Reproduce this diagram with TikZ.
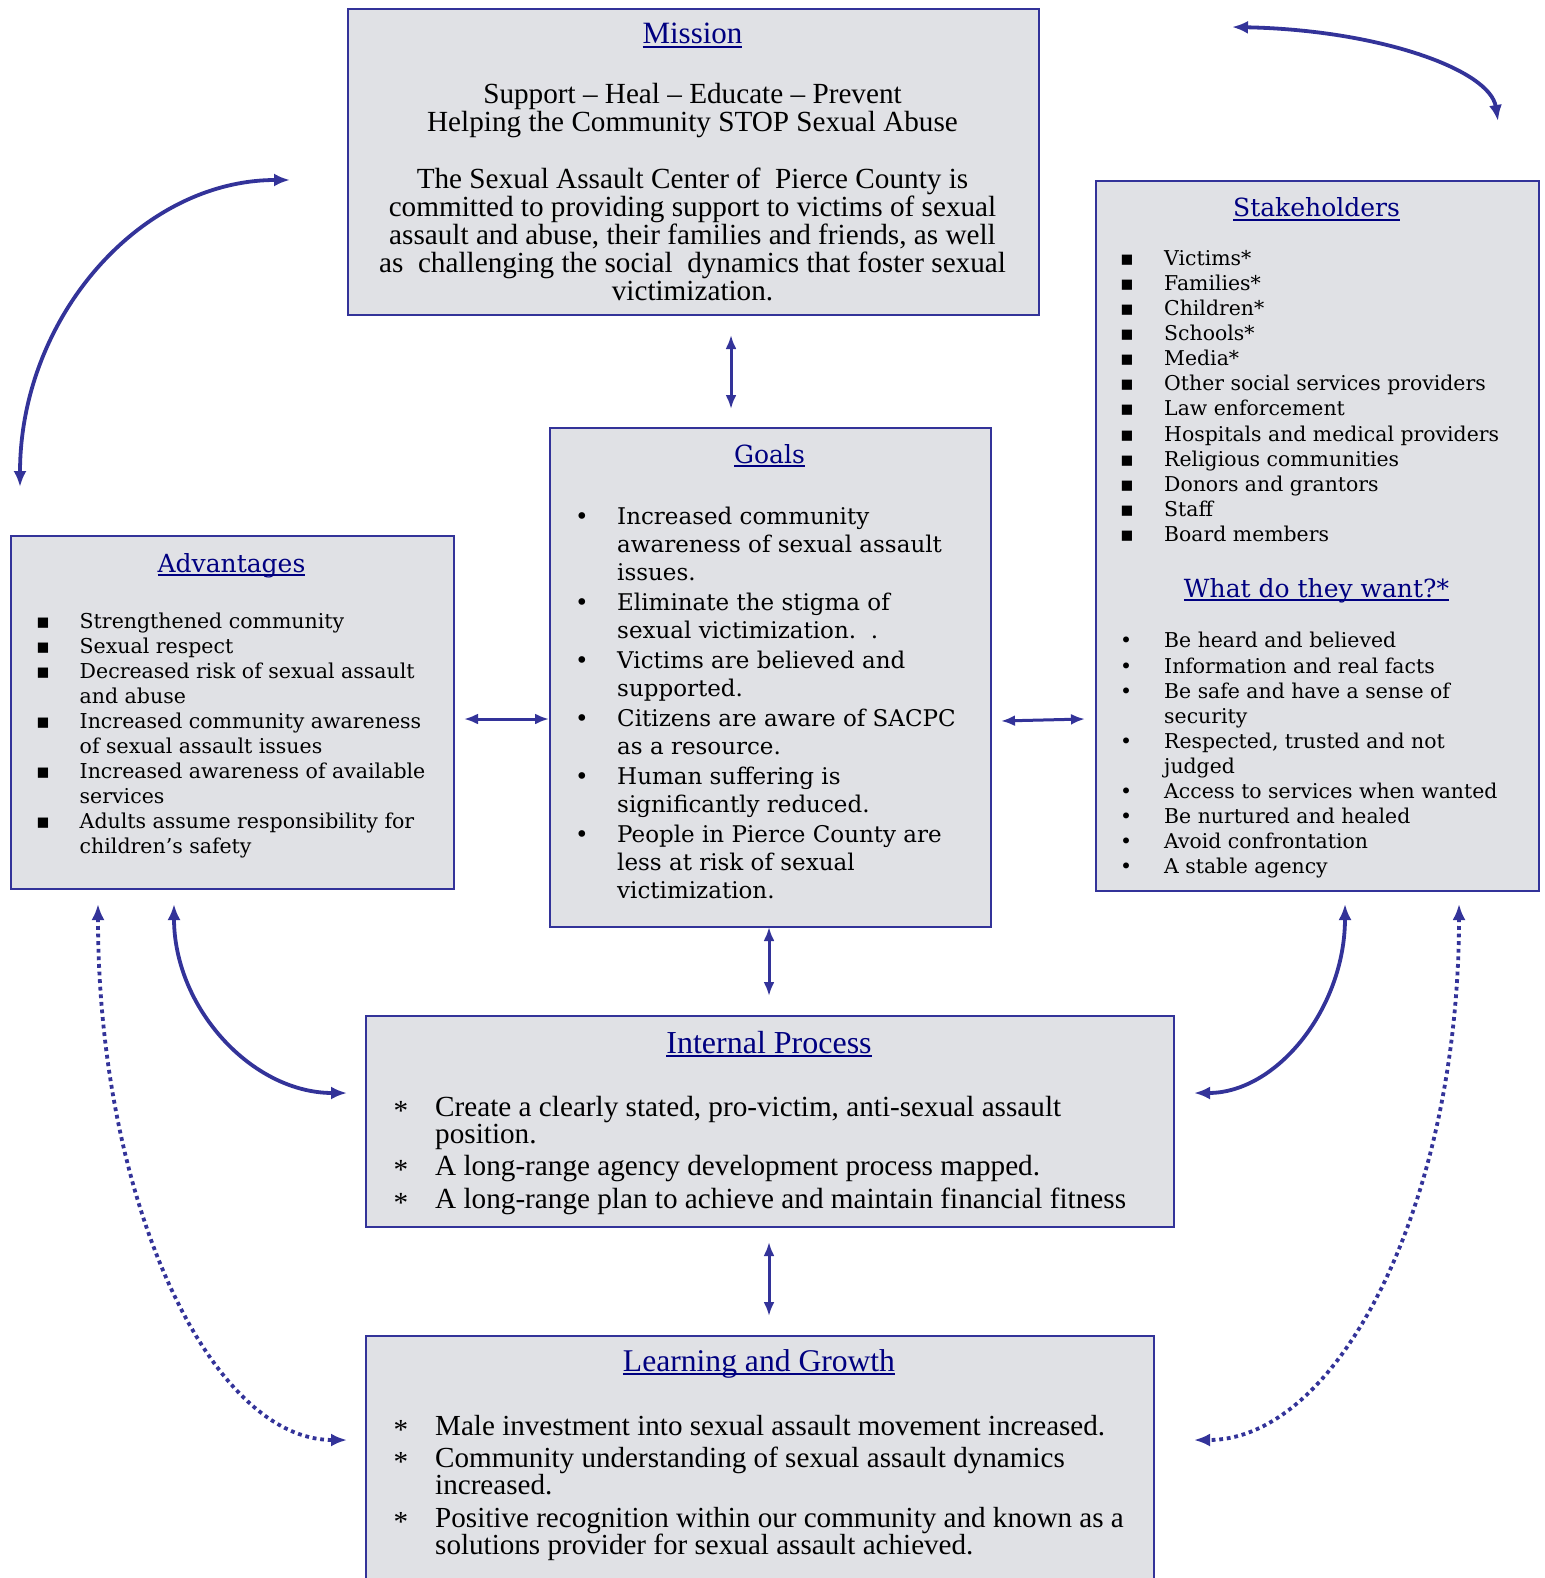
\documentclass[tikz,border=0pt]{standalone}
\usepackage{fontspec}
\setmainfont{Liberation Serif}
\newfontfamily\bk{DejaVu Serif}
\newfontfamily\tm{Liberation Serif}
\newfontfamily\dvs{DejaVu Sans}
\usetikzlibrary{arrows.meta}
\definecolor{lineblue}{RGB}{51,51,153}
\definecolor{titleblue}{RGB}{0,0,128}
\definecolor{marble}{RGB}{224,225,229}
\newcommand\myul[1]{\setbox0\hbox{#1}\rlap{\rule[-4pt]{\wd0}{1.6pt}}\box0}
\newcommand\bsq{\makebox[44pt][l]{\dvs ▪}}
\newcommand\bsqa{\makebox[43.5pt][l]{\dvs ▪}}
\newcommand\bdot{\makebox[44pt][l]{\dvs •}}
\newcommand\bgd{\makebox[42pt][l]{\dvs •}}
\newcommand\bst{\makebox[41.5pt][l]{\raisebox{-4pt}{*}}}
\begin{document}
\begin{tikzpicture}[x=1pt,y=-1pt,
  panel/.style={draw=lineblue, line width=2pt, fill=marble, anchor=north west, inner sep=0pt},
  conn/.style={draw=lineblue, line width=3.8pt, {Latex[length=16pt,width=13pt]}-{Latex[length=16pt,width=13pt]}},
  sconn/.style={draw=lineblue, line width=3pt, {Latex[length=14pt,width=11pt]}-{Latex[length=14pt,width=11pt]}},
  dotconn/.style={conn, dash pattern=on 3.8pt off 3.8pt},
  ttl/.style={anchor=base, text=titleblue, inner sep=0pt},
  txt/.style={anchor=base west, align=left, inner sep=0pt},
]
\useasboundingbox (0,0) rectangle (1544,1578);
\clip (0,0) rectangle (1544,1578);

% panels
\node[panel, minimum width=691pt, minimum height=306pt] (mission) at (347,8) {};
\node[panel, minimum width=441pt, minimum height=499pt] (goals) at (549,427) {};
\node[panel, minimum width=443pt, minimum height=353pt] (adv) at (10,535) {};
\node[panel, minimum width=443pt, minimum height=710pt] (stake) at (1095,180) {};
\node[panel, minimum width=808pt, minimum height=211pt] (internal) at (365,1015) {};
\node[panel, minimum width=788pt, minimum height=280pt] (learn) at (365,1335) {};

% Mission (multi-line nodes are placed by the baseline of their last line)
\node[ttl, font=\tm\fontsize{31}{31}\selectfont] (missiont) at (692.5,44) {\myul{Mission}};
\node[anchor=base, align=center, inner sep=0pt, font=\tm\fontsize{29.2}{28.2}\selectfont] (missionx) at (692.5,301)
 {Support – Heal – Educate – Prevent\\
  Helping the Community STOP Sexual Abuse\\[28.2pt]
  The Sexual Assault Center of\ \ Pierce County is\\
  committed to providing support to victims of sexual\\
  assault and abuse, their families and friends, as well\\
  as\ \ challenging the social\ \ dynamics that foster sexual\\
  victimization.};

% Goals
\node[ttl, font=\bk\fontsize{25}{25}\selectfont] (goalst) at (769.5,463) {\myul{Goals}};
\node[txt, font=\bk\fontsize{23}{28}\selectfont] (goalsx) at (575,898)
 {\bgd Increased community\\
  \hspace*{42pt}awareness of sexual assault\\
  \hspace*{42pt}issues.\\[2pt]
  \bgd Eliminate the stigma of\\
  \hspace*{42pt}sexual victimization.\ \ .\\[2pt]
  \bgd Victims are believed and\\
  \hspace*{42pt}supported.\\[2pt]
  \bgd Citizens are aware of SACPC\\
  \hspace*{42pt}as a resource.\\[2pt]
  \bgd Human suffering is\\
  \hspace*{42pt}significantly reduced.\\[2pt]
  \bgd People in Pierce County are\\
  \hspace*{42pt}less at risk of sexual\\
  \hspace*{42pt}victimization.};

% Advantages
\node[ttl, font=\bk\fontsize{25}{25}\selectfont] (advt) at (231.5,572) {\myul{Advantages}};
\node[txt, font=\bk\fontsize{20.5}{25.1}\selectfont] (advx) at (36,853.9)
 {\bsqa Strengthened community\\
  \bsqa Sexual respect\\
  \bsqa Decreased risk of sexual assault\\
  \hspace*{43.5pt}and abuse\\
  \bsqa Increased community awareness\\
  \hspace*{43.5pt}of sexual assault issues\\
  \bsqa Increased awareness of available\\
  \hspace*{43.5pt}services\\
  \bsqa Adults assume responsibility for\\
  \hspace*{43.5pt}children’s safety};

% Stakeholders
\node[ttl, font=\bk\fontsize{25}{25}\selectfont] (staket) at (1316.5,217) {\myul{Stakeholders}};
\node[txt, font=\bk\fontsize{20.4}{25.07}\selectfont] (stakex) at (1120,541.3)
 {\bsq Victims*\\
  \bsq Families*\\
  \bsq Children*\\
  \bsq Schools*\\
  \bsq Media*\\
  \bsq Other social services providers\\
  \bsq Law enforcement\\
  \bsq Hospitals and medical providers\\
  \bsq Religious communities\\
  \bsq Donors and grantors\\
  \bsq Staff\\
  \bsq Board members};
\node[ttl, font=\bk\fontsize{25}{25}\selectfont] (wantt) at (1316.5,597) {\myul{What do they want?*}};
\node[txt, font=\bk\fontsize{20.4}{25.07}\selectfont] (wantx) at (1120,873.6)
 {\bdot Be heard and believed\\
  \bdot Information and real facts\\
  \bdot Be safe and have a sense of\\
  \hspace*{44pt}security\\
  \bdot Respected, trusted and not\\
  \hspace*{44pt}judged\\
  \bdot Access to services when wanted\\
  \bdot Be nurtured and healed\\
  \bdot Avoid confrontation\\
  \bdot A stable agency};

% Internal Process
\node[ttl, font=\tm\fontsize{32}{32}\selectfont] (internalt) at (769,1053) {\myul{Internal Process}};
\node[txt, font=\tm\fontsize{29.2}{27.2}\selectfont] (internalx) at (393.5,1208.6)
 {\bst Create a clearly stated, pro-victim, anti-sexual assault\\
  \hspace*{41.5pt}position.\\[5.5pt]
  \bst A long-range agency development process mapped.\\[5.5pt]
  \bst A long-range plan to achieve and maintain financial fitness};

% Learning and Growth
\node[ttl, font=\tm\fontsize{31.6}{31.6}\selectfont] (learnt) at (759,1371) {\myul{Learning and Growth}};
\node[txt, font=\tm\fontsize{29.1}{27.2}\selectfont] (learnx) at (393.5,1554.8)
 {\bst Male investment into sexual assault movement increased.\\[5.5pt]
  \bst Community understanding of sexual assault dynamics\\
  \hspace*{41.5pt}increased.\\[5.5pt]
  \bst Positive recognition within our community and known as a\\
  \hspace*{41.5pt}solutions provider for sexual assault achieved.};

% connector end points
\coordinate (mg1) at (731,335);  \coordinate (mg2) at (731,409);
\coordinate (gi1) at (769,927);  \coordinate (gi2) at (769,996);
\coordinate (il1) at (769,1242); \coordinate (il2) at (769,1316);
\coordinate (ag1) at (464,719);  \coordinate (ag2) at (549,719);
\coordinate (gs1) at (1001,721); \coordinate (gs2) at (1085,719);
\coordinate (tl1) at (20,487);   \coordinate (tl2) at (290,180);
\coordinate (tr1) at (1232,27);  \coordinate (tr2) at (1498,121);
\coordinate (bl1) at (174,904);  \coordinate (bl2) at (347,1093);
\coordinate (bd1) at (98,904);   \coordinate (bd2) at (347,1440);
\coordinate (br1) at (1345,904); \coordinate (br2) at (1194,1093);
\coordinate (bq1) at (1459,904); \coordinate (bq2) at (1194,1440);

% straight connectors
\draw[sconn] (mg1) -- (mg2);
\draw[sconn] (gi1) -- (gi2);
\draw[sconn] (il1) -- (il2);
\draw[sconn] (ag1) -- (ag2);
\draw[sconn] (gs1) -- (gs2);

% curved connectors
\draw[conn] (tl1) .. controls (20,317) and (141,180) .. (tl2);
\draw[conn] (tr1) .. controls (1380,30) and (1490,70) .. (tr2);
\draw[conn] (bl1) .. controls (174,1008) and (252,1093) .. (bl2);
\draw[dotconn] (bd1) .. controls (98,1200) and (210,1440) .. (bd2);
\draw[conn] (br1) .. controls (1345,1008) and (1277,1093) .. (br2);
\draw[dotconn] (bq1) .. controls (1459,1200) and (1340,1440) .. (bq2);
\end{tikzpicture}
\end{document}
